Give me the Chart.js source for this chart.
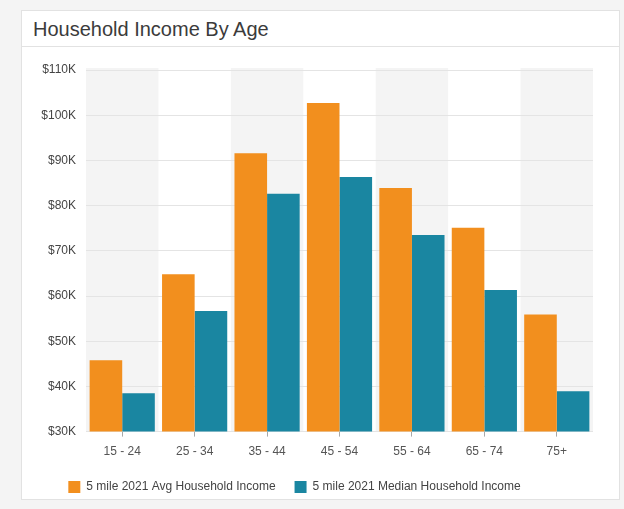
<!DOCTYPE html>
<html>
<head>
<meta charset="utf-8">
<title>Household Income By Age</title>
<script src="https://cdn.jsdelivr.net/npm/chart.js@4/dist/chart.umd.min.js"></script>
<style>
  html, body { margin: 0; padding: 0; background: #f4f4f4; overflow: hidden; font-family: "Liberation Sans", Arial, sans-serif; }
  #card { position: absolute; left: 21px; top: 10px; width: 597px; height: 488px; background: #fff; border: 1px solid #e2e2e2; }
  #title { height: 35px; line-height: 37px; border-bottom: 1px solid #e2e2e2; padding-left: 11px; font-size: 20px; color: #3b3b3b; }
  #wrap { position: absolute; left: 22px; top: 47px; width: 595px; height: 456px; }
</style>
</head>
<body>
<div id="card"><div id="title">Household Income By Age</div></div>
<div id="wrap"><canvas id="chart"></canvas></div>
<script>
const ageGroups = ['15 - 24', '25 - 34', '35 - 44', '45 - 54', '55 - 64', '65 - 74', '75+'];
const avgIncome = [45800, 64800, 91600, 102700, 83900, 75100, 55900];
const medianIncome = [38500, 56700, 82600, 86300, 73500, 61300, 38900];
const seriesNames = ['5 mile 2021 Avg Household Income', '5 mile 2021 Median Household Income'];

// grey bands behind every other category
const bandPlugin = {
  id: 'bands',
  beforeDraw(chart) {
    const { ctx, chartArea, scales } = chart;
    const x = scales.x;
    const half = (chartArea.right - chartArea.left) / ageGroups.length / 2;
    ctx.save();
    ctx.fillStyle = '#f4f4f4';
    ageGroups.forEach((g, i) => {
      if (i % 2) return;
      const c = x.getPixelForValue(i);
      ctx.fillRect(c - half, chartArea.top - 2, half * 2, chartArea.bottom - chartArea.top + 2);
    });
    ctx.restore();
  }
};

// nudge legend to the left like the original
const legendShift = {
  id: 'legendShift',
  afterLayout(chart) {
    chart.legend.left -= 13;
    chart.legend.right -= 13;
  }
};

new Chart(document.getElementById('chart'), {
  type: 'bar',
  data: {
    labels: ageGroups,
    datasets: [
      { label: seriesNames[0], data: avgIncome, backgroundColor: '#f28f1e' },
      { label: seriesNames[1], data: medianIncome, backgroundColor: '#1a86a1' }
    ]
  },
  options: {
    responsive: true,
    maintainAspectRatio: false,
    animation: false,
    layout: { padding: { top: 23, right: 24, left: 0, bottom: 0 } },
    datasets: { bar: { categoryPercentage: 0.9, barPercentage: 1 } },
    scales: {
      x: {
        afterFit(scale) { scale.height -= 5; },
        grid: { offset: false, drawOnChartArea: false, drawTicks: true, tickLength: 5, color: '#a8a8a8' },
        border: { display: false },
        ticks: { color: '#555', font: { family: '"Liberation Sans", Arial', size: 12 }, padding: 8 }
      },
      y: {
        min: 30000,
        max: 110000,
        afterFit(scale) { scale.width = 64; },
        grid: { color: '#e4e4e4', drawTicks: false },
        border: { display: false },
        ticks: {
          stepSize: 10000,
          padding: 10,
          color: '#444',
          font: { family: '"Liberation Sans", Arial', size: 12 },
          callback: v => '$' + (v / 1000) + 'K'
        }
      }
    },
    plugins: {
      legend: {
        position: 'bottom',
        labels: {
          boxWidth: 12,
          boxHeight: 12,
          padding: 19,
          color: '#444',
          font: { family: '"Liberation Sans", Arial', size: 12 }
        }
      },
      tooltip: { enabled: false }
    }
  },
  plugins: [bandPlugin, legendShift]
});
</script>
</body>
</html>
